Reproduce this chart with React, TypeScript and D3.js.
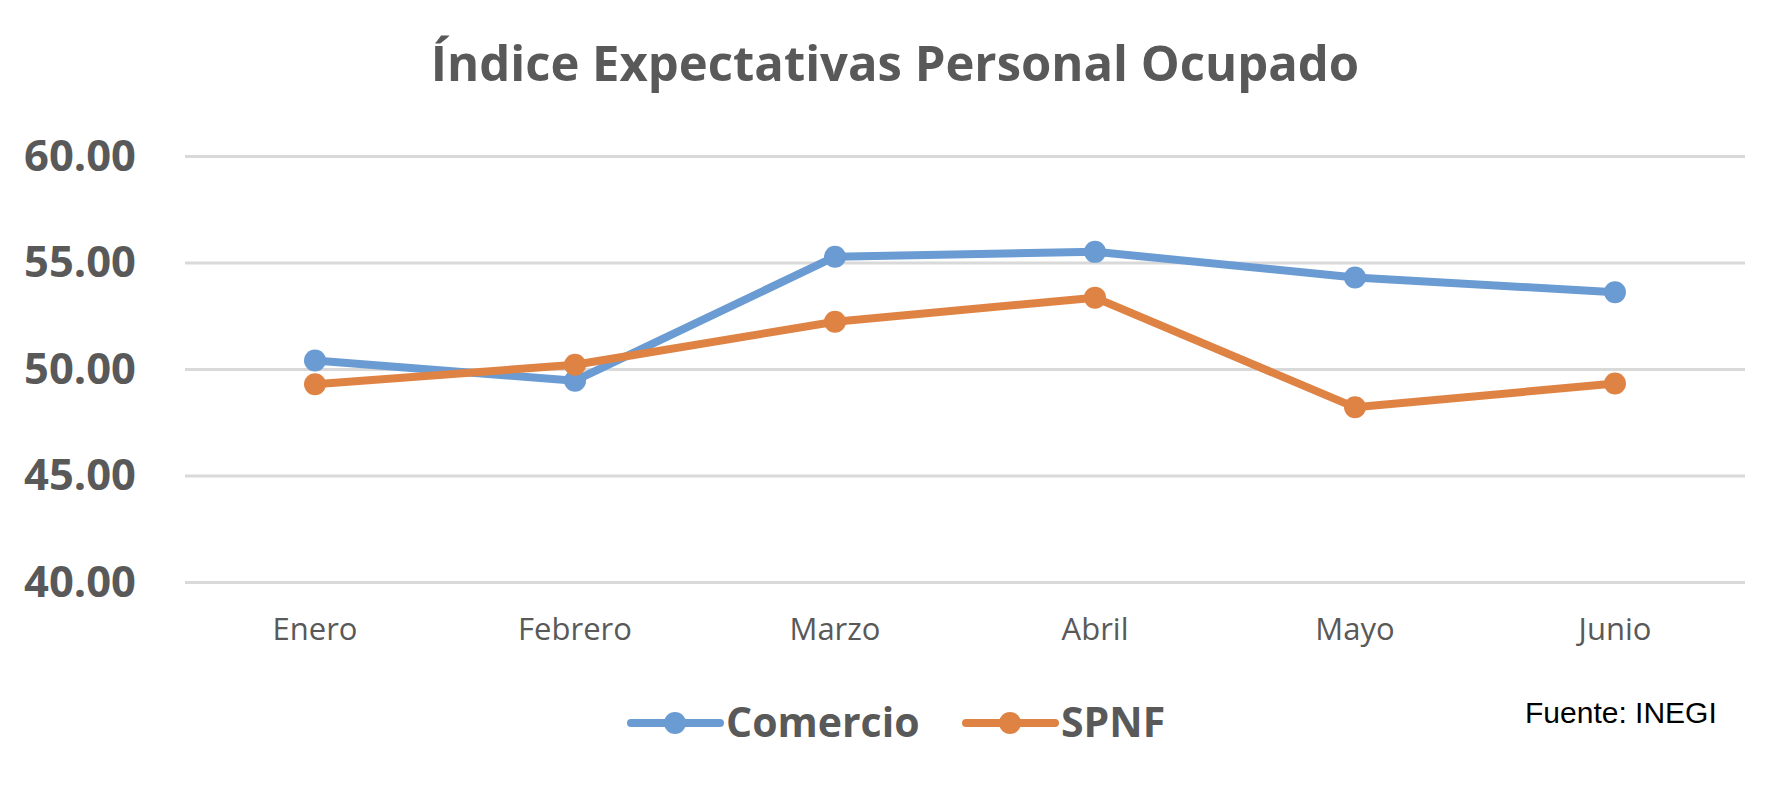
import * as d3 from "d3";
import { useEffect, useRef } from "react";

const categories = ["Enero", "Febrero", "Marzo", "Abril", "Mayo", "Junio"];
const comercio = [50.4, 49.45, 55.27, 55.5, 54.3, 53.6];
const spnf = [49.28, 50.2, 52.22, 53.35, 48.2, 49.32];
const yTicks = [40, 45, 50, 55, 60];

const series = [
  { name: "Comercio", values: comercio, color: "#6a9bd2" },
  { name: "SPNF", values: spnf, color: "#df8345" },
];

const W = 1790;
const H = 790;
const TEXT = "#595959";
const FONT = "'Open Sans', 'Noto Sans', sans-serif";

const App = () => {
  const ref = useRef<SVGSVGElement | null>(null);

  useEffect(() => {
    if (!ref.current) return;
    const svg = d3.select(ref.current);
    svg.selectAll("*").remove();

    const margin = { top: 156, right: 45, bottom: 208, left: 185 };

    const x = d3
      .scaleBand<string>()
      .domain(categories)
      .range([margin.left, W - margin.right]);

    const y = d3
      .scaleLinear()
      .domain([40, 60])
      .range([H - margin.bottom, margin.top]);

    const cx = (c: string) => (x(c) ?? 0) + x.bandwidth() / 2;

    svg.append("rect").attr("width", W).attr("height", H).attr("fill", "#fff");

    // title
    svg
      .append("text")
      .attr("x", W / 2)
      .attr("y", 81)
      .attr("text-anchor", "middle")
      .attr("font-family", FONT)
      .attr("font-weight", 700)
      .attr("font-size", 49)
      .attr("fill", TEXT)
      .text("Índice Expectativas Personal Ocupado");

    // gridlines + y labels
    const yAxis = d3
      .axisLeft(y)
      .tickValues(yTicks)
      .tickSize(-(W - margin.left - margin.right))
      .tickPadding(49)
      .tickFormat(d3.format(".2f"));

    svg
      .append("g")
      .attr("transform", `translate(${margin.left},0)`)
      .call(yAxis)
      .call((g) => {
        g.select(".domain").remove();
        g.selectAll(".tick line").attr("stroke", "#d9d9d9").attr("stroke-width", 3);
        g.selectAll(".tick text")
          .attr("fill", TEXT)
          .attr("font-family", FONT)
          .attr("font-weight", 700)
          .attr("font-size", 43.5)
          .attr("dy", "0.33em");
      });

    // x labels
    const xAxis = d3.axisBottom(x).tickSize(0).tickPadding(36);
    svg
      .append("g")
      .attr("transform", `translate(0,${y(40)})`)
      .call(xAxis)
      .call((g) => {
        g.select(".domain").remove();
        g.selectAll(".tick text")
          .attr("fill", TEXT)
          .attr("font-family", FONT)
          .attr("font-size", 31);
      });

    // lines
    const line = d3
      .line<number>()
      .x((_, i) => cx(categories[i]))
      .y((d) => y(d));

    series.forEach((s) => {
      svg
        .append("path")
        .datum(s.values)
        .attr("d", line)
        .attr("fill", "none")
        .attr("stroke", s.color)
        .attr("stroke-width", 8)
        .attr("stroke-linejoin", "round")
        .attr("stroke-linecap", "round");

      svg
        .append("g")
        .selectAll("circle")
        .data(s.values)
        .join("circle")
        .attr("cx", (_, i) => cx(categories[i]))
        .attr("cy", (d) => y(d))
        .attr("r", 11)
        .attr("fill", s.color);
    });

    // legend
    const legendY = 723;
    const legendX = [631, 966];
    series.forEach((s, i) => {
      const g = svg.append("g").attr("transform", `translate(${legendX[i]},${legendY})`);
      g.append("line")
        .attr("x1", 0)
        .attr("x2", 89)
        .attr("stroke", s.color)
        .attr("stroke-width", 8)
        .attr("stroke-linecap", "round");
      g.append("circle").attr("cx", 44).attr("r", 11).attr("fill", s.color);
      g.append("text")
        .attr("x", 95)
        .attr("y", 14)
        .attr("font-family", FONT)
        .attr("font-weight", 700)
        .attr("font-size", 41)
        .attr("fill", TEXT)
        .text(s.name);
    });

    svg
      .append("text")
      .attr("x", 1525)
      .attr("y", 723)
      .attr("font-family", "'Liberation Sans', Arial, sans-serif")
      .attr("font-size", 30)
      .attr("fill", "#000")
      .text("Fuente: INEGI");
  }, []);

  return (
    <div style={{ position: "fixed", left: 0, top: 0, width: W, height: H }}>
      <svg ref={ref} width={W} height={H} style={{ display: "block" }} />
    </div>
  );
};

export default App;
